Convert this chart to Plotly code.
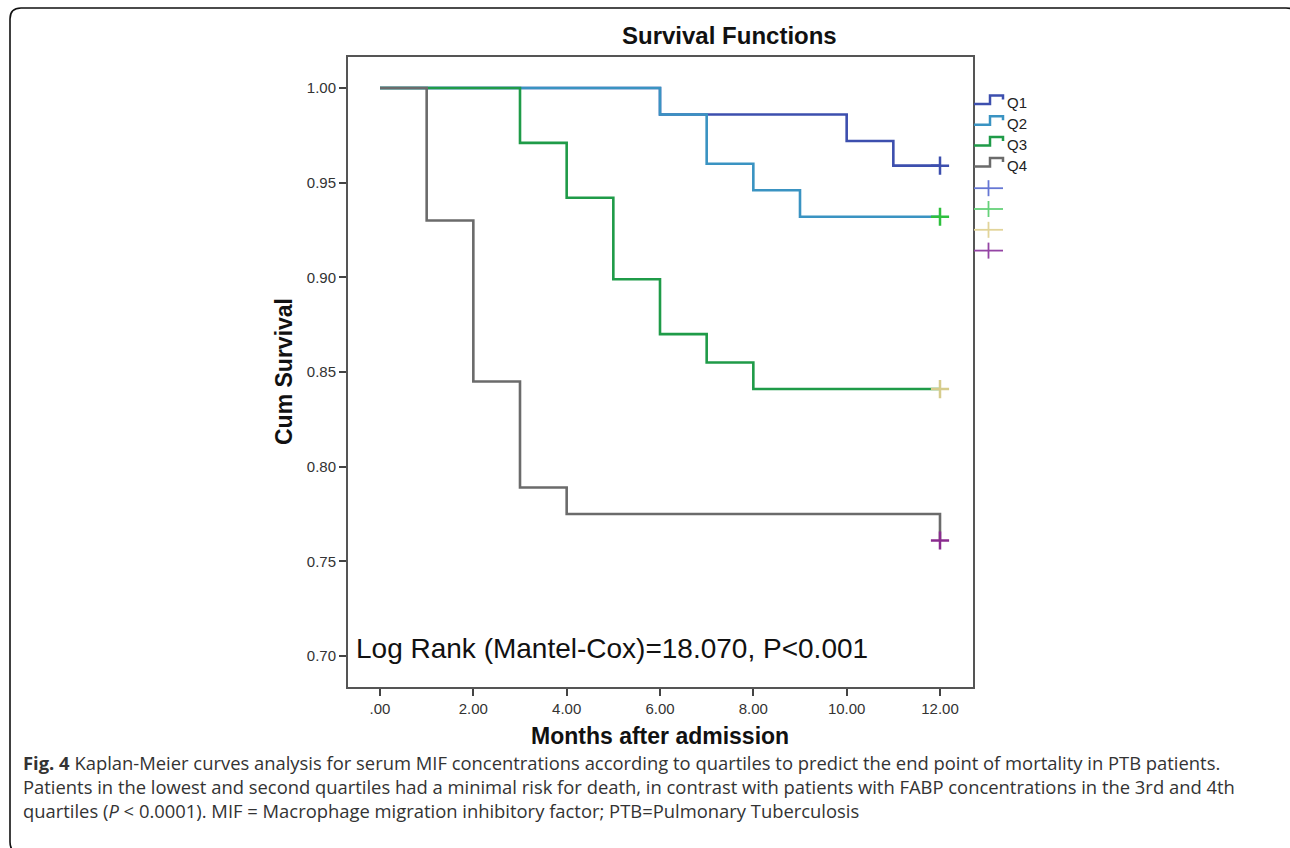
import plotly.graph_objects as go

# ---------------- data ----------------
groups = ["Q1", "Q2", "Q3", "Q4"]
q1_time = [0, 6, 10, 11, 12]
q1_surv = [1.000, 0.986, 0.972, 0.959, 0.959]
q2_time = [0, 6, 7, 8, 9, 12]
q2_surv = [1.000, 0.986, 0.960, 0.946, 0.932, 0.932]
q3_time = [0, 3, 4, 5, 6, 7, 8, 12]
q3_surv = [1.000, 0.971, 0.942, 0.899, 0.870, 0.855, 0.841, 0.841]
q4_time = [0, 1, 2, 3, 4, 12]
q4_surv = [1.000, 0.930, 0.845, 0.789, 0.775, 0.761]
censor_time = [12, 12, 12, 12]
censor_surv = [0.959, 0.932, 0.841, 0.761]
x_tickvals = [0, 2, 4, 6, 8, 10, 12]
x_ticktext = [".00", "2.00", "4.00", "6.00", "8.00", "10.00", "12.00"]
y_tickvals = [0.70, 0.75, 0.80, 0.85, 0.90, 0.95, 1.00]
y_ticktext = ["0.70", "0.75", "0.80", "0.85", "0.90", "0.95", "1.00"]

line_colors = ["#3D4FAE", "#3A93C2", "#1F9B48", "#6B6B6B"]
censor_colors = ["#3D4FAE", "#2EC03E", "#D6CC8C", "#8A2B8F"]
legend_cross_colors = ["#6677D4", "#66D27A", "#E2D49A", "#9444A4"]

W, H = 1290, 848
L, R, T, B = 348, 973, 57, 687  # plot frame in pixels


def px(x):
    return (x - L) / (R - L)


def py(y):
    return (B - y) / (B - T)


fig = go.Figure()
series = [(q1_time, q1_surv), (q2_time, q2_surv), (q3_time, q3_surv), (q4_time, q4_surv)]
for name, (t, s), c in zip(groups, series, line_colors):
    fig.add_trace(go.Scatter(x=t, y=s, mode="lines", name=name, line=dict(color=c, width=2.6, shape="hv"),
                             showlegend=False, hoverinfo="skip"))
for name, t, s, c in zip(groups, censor_time, censor_surv, censor_colors):
    fig.add_trace(go.Scatter(x=[t], y=[s], mode="markers", name=name + " censored",
                             marker=dict(symbol="cross-thin", size=13, line=dict(color=c, width=2.5)),
                             showlegend=False, hoverinfo="skip"))

shapes = []
annotations = []

# legend glyphs (step symbol + labels)
leg_y0 = 104
leg_dy = 20.8
for i, (name, c) in enumerate(zip(groups, line_colors)):
    yb = leg_y0 + i * leg_dy
    path = (f"M {px(974)},{py(yb)} L {px(990)},{py(yb)} L {px(990)},{py(yb-8.5)} "
            f"L {px(1003)},{py(yb-8.5)} L {px(1003)},{py(yb-4.5)}")
    shapes.append(dict(type="path", xref="paper", yref="paper", path=path,
                       line=dict(color=c, width=2.5)))
    annotations.append(dict(x=px(1005), y=py(yb - 1), xref="paper", yref="paper", text=name,
                            showarrow=False, xanchor="left", yanchor="middle",
                            font=dict(family="Liberation Sans, Arial", size=15, color="#222")))
for j, c in enumerate(legend_cross_colors):
    yc = leg_y0 + (4 + j) * leg_dy + 1
    shapes.append(dict(type="line", xref="paper", yref="paper", x0=px(974), x1=px(1003),
                       y0=py(yc), y1=py(yc), line=dict(color=c, width=1.8)))
    shapes.append(dict(type="line", xref="paper", yref="paper", x0=px(988.5), x1=px(988.5),
                       y0=py(yc - 8), y1=py(yc + 8), line=dict(color=c, width=1.8)))

# caption rounded border
bl, bt, br, bb, rad = 10, 8, 1297, 853, 11
border = (f"M {px(bl)},{py(bb - rad)} L {px(bl)},{py(bt + rad)} Q {px(bl)},{py(bt)} {px(bl + rad)},{py(bt)} "
          f"L {px(br - rad)},{py(bt)} Q {px(br)},{py(bt)} {px(br)},{py(bt + rad)} "
          f"L {px(br)},{py(bb - rad)} Q {px(br)},{py(bb)} {px(br - rad)},{py(bb)} "
          f"L {px(bl + rad)},{py(bb)} Q {px(bl)},{py(bb)} {px(bl)},{py(bb - rad)} Z")
shapes.append(dict(type="path", xref="paper", yref="paper", path=border,
                   line=dict(color="#111", width=1.6), layer="below"))

# title
annotations.append(dict(x=px(729), y=py(36), xref="paper", yref="paper", text="<b>Survival Functions</b>",
                        showarrow=False, xanchor="center", yanchor="middle",
                        font=dict(family="Liberation Sans, Arial", size=24, color="#111")))
# axis titles
annotations.append(dict(x=px(284), y=py(372), xref="paper", yref="paper", text="<b>Cum Survival</b>",
                        showarrow=False, xanchor="center", yanchor="middle", textangle=-90,
                        font=dict(family="Liberation Sans, Arial", size=23, color="#111")))
annotations.append(dict(x=px(660), y=py(735.5), xref="paper", yref="paper", text="<b>Months after admission</b>",
                        showarrow=False, xanchor="center", yanchor="middle",
                        font=dict(family="Liberation Sans, Arial", size=23, color="#111")))
# log-rank text
annotations.append(dict(x=px(354), y=py(648), xref="paper", yref="paper",
                        text="Log Rank (Mantel-Cox)=18.070, P<0.001",
                        showarrow=False, xanchor="left", yanchor="middle",
                        font=dict(family="Liberation Sans, Arial", size=28, color="#111")))

# caption (one text block)
cap_font = dict(family="Open Sans, Noto Sans", size=18.4, color="#333")
cap_lines = [
    "<b>Fig. 4</b> Kaplan-Meier curves analysis for serum MIF concentrations according to quartiles to predict the end point of mortality in PTB patients.",
    "Patients in the lowest and second quartiles had a minimal risk for death, in contrast with patients with FABP concentrations in the 3rd and 4th",
    "quartiles (<i>P</i> < 0.0001). MIF = Macrophage migration inhibitory factor; PTB=Pulmonary Tuberculosis",
]
annotations.append(dict(x=px(21), y=py(748), xref="paper", yref="paper", text="<br>".join(cap_lines),
                        showarrow=False, xanchor="left", yanchor="top", align="left", font=cap_font))

axis_common = dict(showline=True, linecolor="#555", linewidth=2, mirror=True, ticks="outside",
                   ticklen=7, tickwidth=2, tickcolor="#444", showgrid=False, zeroline=False,
                   tickfont=dict(family="Liberation Sans, Arial", size=15, color="#333"))
fig.update_layout(
    width=W, height=H, margin=dict(l=L, r=W - R, t=T, b=H - B, pad=0),
    paper_bgcolor="white", plot_bgcolor="white", showlegend=False,
    xaxis=dict(range=[-(380 - L) / 46.667, 12 + (R - 940) / 46.667], tickvals=x_tickvals,
               ticktext=x_ticktext, **axis_common),
    yaxis=dict(range=[0.70 - (B - 656) / 1893.3, 1.0 + (88 - T) / 1893.3], tickvals=y_tickvals,
               ticktext=y_ticktext, **axis_common),
    shapes=shapes, annotations=annotations,
)

fig.write_html("out.html", config={"displayModeBar": False},
               post_script="document.body.style.margin='0';document.body.style.overflow='hidden';")
